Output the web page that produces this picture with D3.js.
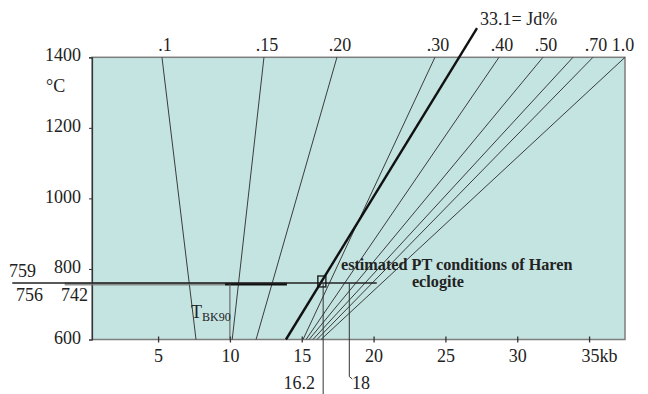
<!DOCTYPE html>
<html>
<head>
<meta charset="utf-8">
<script src="https://cdn.jsdelivr.net/npm/d3@7"></script>
<style>
  body { margin: 0; background: #fff; }
  svg text { font-family: "Liberation Serif", "Times New Roman", serif; fill: #222; }
</style>
</head>
<body>
<svg width="648" height="394"></svg>
<script>
// pressure ticks (kb) and temperature ticks (C)
var xTicks = [5, 10, 15, 20, 25, 30, 35];
var yTicks = [600, 800, 1000, 1200, 1400];

// jadeite isopleths: label, top point (kb, C), bottom point (kb at 600 C)
var isoLabels = [".1", ".15", ".20", ".30", "33.1= Jd%", ".40", ".50", "", ".70", "1.0"];
var isoTopKb = [5.27, 12.37, 17.45, 24.27, 27.2, 28.73, 31.79, 33.88, 35.27, 37.5];
var isoTopT = [1400, 1400, 1400, 1400, 1483, 1400, 1400, 1400, 1400, 1400];
var isoBottomKb = [7.64, 10.16, 11.82, 15.09, 13.9, 15.3, 15.51, 15.78, 16.06, 16.34];
var isoBold = [false, false, false, false, true, false, false, false, false, false];

// temperature estimates (left labels) and pressure estimates (bottom labels)
var tempLabels = ["759", "756", "742"];
var pressLabels = ["16.2", "18"];
var pressKb = [16.49, 18.31];

var svg = d3.select("svg"),
  width = +svg.attr("width"),
  height = +svg.attr("height");

var x = d3.scaleLinear().domain([0.4, 37.5]).range([92, 625]);
var y = d3.scaleLinear().domain([600, 1400]).range([339.5, 57.3]);

// plot background
svg.append("rect")
  .attr("x", x(0.4)).attr("y", y(1400))
  .attr("width", x(37.5) - x(0.4)).attr("height", y(600) - y(1400))
  .attr("fill", "#c4e4e1")
  .attr("stroke", "#7d7d7d")
  .attr("stroke-width", 1.5);

// left axis
var yAxis = svg.append("g")
  .attr("transform", "translate(" + x(0.4) + ",0)")
  .call(d3.axisLeft(y).tickValues(yTicks).tickSize(3).tickPadding(8).tickFormat(d3.format("d")));
yAxis.select(".domain").attr("stroke", "#333").attr("stroke-width", 1.2);
yAxis.selectAll("line").attr("stroke", "#333");
yAxis.selectAll("text").style("font-size", "18px").attr("dy", "0.2em");

svg.append("text").attr("x", 46).attr("y", 92).style("font-size", "18px").text("\u00B0C");

// bottom axis
var xAxis = svg.append("g")
  .attr("transform", "translate(0," + y(600) + ")")
  .call(d3.axisBottom(x).tickValues(xTicks).tickSize(3).tickPadding(7));
xAxis.select(".domain").remove();
xAxis.selectAll("line").attr("y1", -3).attr("stroke", "#333").attr("stroke-width", 1.3);
xAxis.selectAll("text").style("font-size", "18px")
  .filter(function (d) { return d === 35; })
  .attr("text-anchor", "start").attr("x", -8).text("35kb");

// isopleths
var iso = isoLabels.map(function (l, i) {
  return { label: l, tk: isoTopKb[i], tt: isoTopT[i], bk: isoBottomKb[i], bold: isoBold[i] };
});

svg.append("g").selectAll("line")
  .data(iso)
  .enter().append("line")
  .attr("x1", function (d) { return x(d.bk); })
  .attr("y1", y(600))
  .attr("x2", function (d) { return x(d.tk); })
  .attr("y2", function (d) { return y(d.tt); })
  .attr("stroke", function (d) { return d.bold ? "#111" : "#3c3c3c"; })
  .attr("stroke-width", function (d) { return d.bold ? 2.4 : 1; });

svg.append("g").selectAll("text")
  .data(iso.filter(function (d) { return !d.bold && d.label; }))
  .enter().append("text")
  .attr("x", function (d) { return d.label === "1.0" ? x(d.tk) - 2 : x(d.tk) + 3; })
  .attr("y", 51)
  .attr("text-anchor", "middle")
  .style("font-size", "18px")
  .text(function (d) { return d.label; });

svg.append("text")
  .attr("x", 480).attr("y", 25)
  .style("font-size", "18px")
  .text(iso[4].label);

// horizontal temperature lines
svg.append("line")
  .attr("x1", x(-1.5)).attr("x2", x(9.66))
  .attr("y1", y(757)).attr("y2", y(757))
  .attr("stroke", "#777").attr("stroke-width", 3).attr("opacity", 0.8);
svg.append("line")
  .attr("x1", x(9.66)).attr("x2", x(13.97))
  .attr("y1", y(757)).attr("y2", y(757))
  .attr("stroke", "#111").attr("stroke-width", 2.6);
svg.append("line")
  .attr("x1", x(-5.15)).attr("x2", x(20.22))
  .attr("y1", y(760)).attr("y2", y(760))
  .attr("stroke", "#222").attr("stroke-width", 1.4);

// T_BK90 marker at 10 kb
svg.append("line")
  .attr("x1", x(10)).attr("x2", x(10))
  .attr("y1", y(757)).attr("y2", y(600))
  .attr("stroke", "#555").attr("stroke-width", 1);
var tbk = svg.append("text").attr("x", 191).attr("y", 318).style("font-size", "18px");
tbk.append("tspan").text("T");
tbk.append("tspan").attr("dy", 3).style("font-size", "12px").text("BK90");

// left temperature labels
svg.append("text").attr("x", 9).attr("y", 277).style("font-size", "18px").text(tempLabels[0]);
svg.append("text").attr("x", 16).attr("y", 301).style("font-size", "18px").text(tempLabels[1]);
svg.append("text").attr("x", 61).attr("y", 301).style("font-size", "18px").text(tempLabels[2]);

// pressure marker lines
svg.append("line")
  .attr("x1", x(pressKb[0])).attr("x2", x(pressKb[0]))
  .attr("y1", y(760)).attr("y2", y(445))
  .attr("stroke", "#333").attr("stroke-width", 1);
svg.append("path")
  .attr("d", d3.line()([[x(pressKb[1]), y(760)], [x(pressKb[1]), y(495)], [x(pressKb[1]) + 3, y(488)]]))
  .attr("fill", "none").attr("stroke", "#333").attr("stroke-width", 1);
svg.append("text").attr("x", 315).attr("y", 389).attr("text-anchor", "end")
  .style("font-size", "18px").text(pressLabels[0]);
svg.append("text").attr("x", 352).attr("y", 389)
  .style("font-size", "18px").text(pressLabels[1]);

// estimated PT box
svg.append("rect")
  .attr("x", x(16.12)).attr("y", y(780))
  .attr("width", x(16.68) - x(16.12)).attr("height", y(749) - y(780))
  .attr("fill", "none").attr("stroke", "#111").attr("stroke-width", 1.3);

svg.append("text").attr("x", 341).attr("y", 270)
  .style("font-size", "16.2px").style("font-weight", "bold")
  .text("estimated PT conditions of Haren");
svg.append("text").attr("x", 438).attr("y", 287).attr("text-anchor", "middle")
  .style("font-size", "16.2px").style("font-weight", "bold")
  .text("eclogite");
</script>
</body>
</html>
